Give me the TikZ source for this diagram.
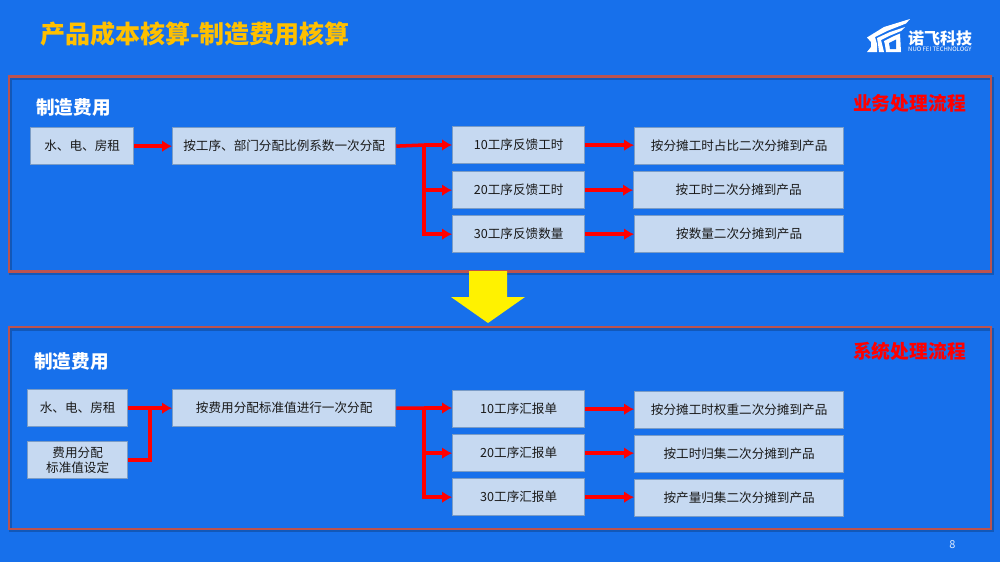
\documentclass[tikz,border=0pt]{standalone}
\usepackage{fontspec}
\setmainfont{Noto Sans CJK SC}
\usetikzlibrary{arrows.meta,calc}
\definecolor{bgblue}{HTML}{1770EB}
\definecolor{framered}{HTML}{BC534F}
\definecolor{boxfill}{HTML}{C6D9F1}
\definecolor{boxline}{HTML}{7A9CC6}
\definecolor{titleor}{HTML}{FFC000}
\tikzset{
  x=1pt,y=-1pt,
  frame/.style={draw=framered,line width=2.9pt},
  fshadow/.style={draw=black!60!bgblue,opacity=.35,line width=3pt},
  pbox/.style={draw=boxline,line width=1.3pt,fill=boxfill,anchor=north west,inner sep=0pt,align=center,
    font=\fontsize{12.6}{15}\selectfont,text=black!90},
  flow/.style={draw=red,line width=3.5pt,-{Latex[length=10pt,width=12pt]}},
  wire/.style={draw=red,line width=3.5pt},
  heading/.style={font=\fontsize{18.6}{20}\selectfont\bfseries,text=white,anchor=west,inner sep=0pt},
  tag/.style={font=\fontsize{18.8}{20}\selectfont\bfseries,text=red,anchor=east,inner sep=0pt},
  logo/.style={fill=white,draw=none}
}
\newcommand{\bx}[6]{\node[pbox,minimum width=#4pt-#2pt,minimum height=#5pt-#3pt] (#1) at (#2,#3) {#6};}
\begin{document}
\begin{tikzpicture}
\useasboundingbox (0,0) rectangle (1000,562);
\fill[bgblue] (0,0) rectangle (1000,562);
% frames
\draw[fshadow] (10,78) rectangle (992,273);
\draw[fshadow] (10,329) rectangle (992,530.5);
\draw[frame] (9,76.5) rectangle (991,271.5);
\draw[frame] (9,327) rectangle (991,529);
% title
\node[font=\fontsize{25}{26}\selectfont\bfseries,text=titleor,anchor=west,inner sep=0pt] (title) at (40,34) {产品成本核算-制造费用核算};
% logo
\fill[logo] (867,37.5) -- (884,27) -- (910,19) -- (906,23.5) -- (887,31) -- (875,37) -- (877,44) -- (877,52) -- (867,52) -- (871,47) -- (871,42) -- cycle;
\fill[logo] (877,38) -- (890,32) -- (905,27) -- (901,31) -- (889,36) -- (881,40) -- (884,52) -- (879,52) -- (878,44) -- cycle;
\fill[logo] (884,41) -- (893,36.5) -- (900,33.5) -- (901,52) -- (886,52) -- (885,45) -- cycle;
\fill[bgblue] (889,43) -- (896,39.5) -- (896,49) -- (890,49) -- cycle;
\node[font=\fontsize{16}{17}\selectfont\bfseries,text=white,anchor=west,inner sep=0pt] (lname) at (908,38) {诺飞科技};
\node[font=\fontsize{6}{7}\selectfont,text=white,anchor=west,inner sep=0pt] (lsub) at (908,49.5) {NUO FEI TECHNOLOGY};
% headings
\node[heading] (h1) at (36,107.5) {制造费用};
\node[heading] (h2) at (34,361) {制造费用};
\node[tag] (t1) at (966,103) {业务处理流程};
\node[tag] (t2) at (966,351) {系统处理流程};
% top row
\bx{a}{30}{127}{133}{164}{水、电、房租}
\bx{b}{172}{127}{395}{164}{按工序、部门分配比例系数一次分配}
\bx{c1}{452}{126}{584}{163}{10工序反馈工时}
\bx{c2}{452}{171}{584}{208}{20工序反馈工时}
\bx{c3}{452}{215}{584}{252}{30工序反馈数量}
\bx{d1}{634}{127}{843}{164}{按分摊工时占比二次分摊到产品}
\bx{d2}{633}{171}{843}{208}{按工时二次分摊到产品}
\bx{d3}{634}{215}{843}{252}{按数量二次分摊到产品}
% bottom row
\bx{e}{27}{389}{127}{426}{水、电、房租}
\bx{f}{27}{441}{127}{478}{费用分配\\标准值设定}
\bx{g}{172}{389}{395}{426}{按费用分配标准值进行一次分配}
\bx{h1}{452}{390}{584}{427}{10工序汇报单}
\bx{h2}{452}{434}{584}{471}{20工序汇报单}
\bx{h3}{452}{478}{584}{515}{30工序汇报单}
\bx{i1}{634}{391}{843}{428}{按分摊工时权重二次分摊到产品}
\bx{i2}{634}{435}{843}{472}{按工时归集二次分摊到产品}
\bx{i3}{634}{479}{843}{516}{按产量归集二次分摊到产品}
% connectors top
\draw[flow] (a.east) -- (b.west);
\coordinate (j1) at (424,145);
\draw[wire] (b.east) -- (j1);
\draw[flow] (j1) -- (j1 -| c1.west);
\draw[flow] (j1) |- (c2.west);
\draw[flow] (j1) |- (c3.west);
\draw[flow] (c1.east) -- (c1.east -| d1.west);
\draw[flow] (c2.east) -- (c2.east -| d2.west);
\draw[flow] (c3.east) -- (c3.east -| d3.west);
% connectors bottom
\draw[flow] (e.east) -- (g.west);
\coordinate (j0) at (150,407.5);
\draw[wire] (f.east) -| (j0);
\coordinate (j2) at (424,408);
\draw[wire] (g.east) -- (j2);
\draw[flow] (j2) -- (j2 -| h1.west);
\draw[flow] (j2) |- (h2.west);
\draw[flow] (j2) |- (h3.west);
\draw[flow] (h1.east) -- (h1.east -| i1.west);
\draw[flow] (h2.east) -- (h2.east -| i2.west);
\draw[flow] (h3.east) -- (h3.east -| i3.west);
% big arrow
\fill[yellow] (469,271) -- (507,271) -- (507,297) -- (525,297) -- (488,323) -- (451,297) -- (469,297) -- cycle;
% page number
\node[font=\fontsize{11}{12}\selectfont,text=white!85!bgblue,inner sep=0pt] (pg) at (952.5,544.5) {8};
\end{tikzpicture}
\end{document}
